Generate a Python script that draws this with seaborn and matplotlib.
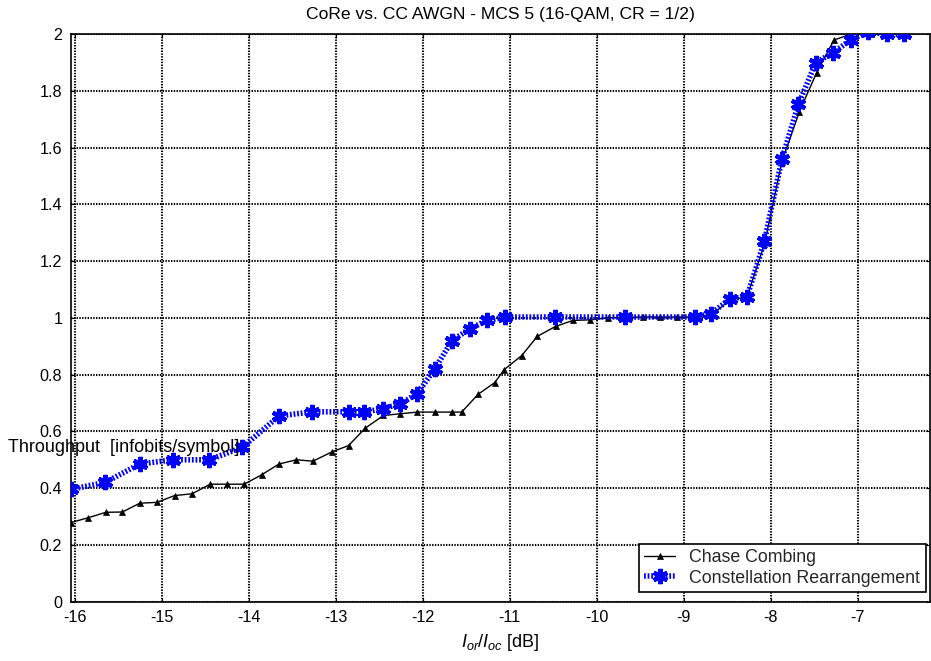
import matplotlib
matplotlib.use("Agg")
import matplotlib.pyplot as plt
import seaborn as sns
import numpy as np
import pandas as pd
from matplotlib.ticker import FixedLocator, FuncFormatter

# ---------------- data ----------------
cc_x = [-16.04, -15.84, -15.64, -15.45, -15.25, -15.05, -14.85, -14.65, -14.44, -14.25,
        -14.05, -13.85, -13.65, -13.45, -13.26, -13.04, -12.85, -12.66, -12.45, -12.26,
        -12.06, -11.86, -11.66, -11.55, -11.36, -11.17, -11.06, -10.86, -10.68, -10.47,
        -10.27, -10.07, -9.87, -9.67, -9.47, -9.27, -9.07, -8.87, -8.67, -8.47,
        -8.27, -8.07, -7.87, -7.67, -7.47, -7.27, -7.07, -6.87, -6.67, -6.47]
cc_y = [0.279, 0.296, 0.315, 0.316, 0.347, 0.350, 0.374, 0.380, 0.414, 0.414,
        0.414, 0.447, 0.485, 0.500, 0.495, 0.528, 0.550, 0.611, 0.656, 0.662,
        0.668, 0.668, 0.668, 0.668, 0.731, 0.772, 0.818, 0.867, 0.935, 0.970,
        0.991, 0.993, 1.000, 1.002, 1.003, 1.003, 1.003, 1.003, 1.012, 1.062,
        1.075, 1.260, 1.550, 1.725, 1.864, 1.979, 2.000, 2.000, 2.000, 2.000]

cr_x = [-16.04, -15.65, -15.25, -14.87, -14.45, -14.07, -13.65, -13.27, -12.85, -12.67,
        -12.46, -12.26, -12.06, -11.86, -11.66, -11.46, -11.26, -11.05, -10.48, -9.67,
        -8.87, -8.68, -8.47, -8.27, -8.07, -7.87, -7.68, -7.48, -7.28, -7.08,
        -6.88, -6.66, -6.47]
cr_y = [0.396, 0.420, 0.485, 0.500, 0.500, 0.544, 0.654, 0.669, 0.669, 0.668,
        0.680, 0.696, 0.733, 0.820, 0.920, 0.961, 0.991, 1.003, 1.003, 1.003,
        1.003, 1.015, 1.067, 1.075, 1.270, 1.558, 1.752, 1.899, 1.934, 1.979,
        2.007, 1.999, 1.999]

x_ticks = [-16, -15, -14, -13, -12, -11, -10, -9, -8, -7]
y_ticks = [0, 0.2, 0.4, 0.6, 0.8, 1.0, 1.2, 1.4, 1.6, 1.8, 2.0]

title = "CoRe vs. CC AWGN - MCS 5 (16-QAM, CR = 1/2)"
xlabel = r"$I_{or}/I_{oc}$ [dB]"
ylabel = "Throughput  [infobits/symbol]"
label_cc = "Chase Combing"
label_cr = "Constellation Rearrangement"

# ---------------- style ----------------
sns.set_theme(style="white")
plt.rcParams["font.family"] = ["Liberation Sans", "DejaVu Sans"]
plt.rcParams["mathtext.fontset"] = "custom"
plt.rcParams["mathtext.it"] = "Liberation Sans:italic"
plt.rcParams["mathtext.rm"] = "Liberation Sans"
plt.rcParams["lines.scale_dashes"] = False

FS = 11.6

fig = plt.figure(figsize=(9.31, 6.61), dpi=100)
ax = fig.add_axes([70.7 / 931, 1 - 601.7 / 661, (930 - 70.7) / 931, (601.7 - 34) / 661])

df_cc = pd.DataFrame({"x": cc_x, "y": cc_y})
df_cr = pd.DataFrame({"x": cr_x, "y": cr_y})

sns.lineplot(data=df_cc, x="x", y="y", ax=ax, sort=False, color="black", lw=1.0,
             marker="^", markersize=4.5, markeredgewidth=0.5, markeredgecolor="black",
             label=label_cc, zorder=3)
sns.lineplot(data=df_cr, x="x", y="y", ax=ax, sort=False, color="#0000ff", lw=4.0,
             linestyle=(0, (1.3, 1.3)), marker=(6, 2, 0), markersize=11,
             markeredgewidth=3.0, markeredgecolor="#0000ff",
             label=label_cr, zorder=4)
ax.lines[1].set_dash_capstyle("butt")

ax.set_xlim(-16.044, -6.167)
ax.set_ylim(0, 2)
ax.xaxis.set_major_locator(FixedLocator(x_ticks))
ax.yaxis.set_major_locator(FixedLocator(y_ticks))
ax.yaxis.set_major_formatter(FuncFormatter(lambda v, p: f"{v:g}"))
ax.xaxis.set_major_formatter(FuncFormatter(lambda v, p: f"{v:g}"))
ax.tick_params(axis="both", direction="in", length=3, width=0.8, colors="black",
               labelsize=FS, pad=6)
ax.tick_params(top=True, right=True, bottom=True, left=True)

ax.grid(True, color="black", linestyle=(0, (1.0, 1.0)), linewidth=1.5)
for s in ax.spines.values():
    s.set_color("black")
    s.set_linewidth(1.2)

ax.set_title(title, fontsize=12.6, color="black", pad=11)
ax.set_xlabel(xlabel, fontsize=13, color="black", labelpad=5)
ax.set_ylabel("")
fig.text(8 / 931, 1 - 448 / 661, ylabel, fontsize=13.0, color="black",
         ha="left", va="center")

leg = ax.legend(loc="lower right", bbox_to_anchor=(0.995, 0.017), borderaxespad=0,
                fontsize=12.8, frameon=True, fancybox=False, handlelength=1.75,
                handletextpad=0.8, borderpad=0.3, labelspacing=0.2)
leg.get_frame().set_edgecolor("black")
leg.get_frame().set_linewidth(1.2)
leg.get_frame().set_alpha(1)

fig.savefig("out.png", dpi=100)
